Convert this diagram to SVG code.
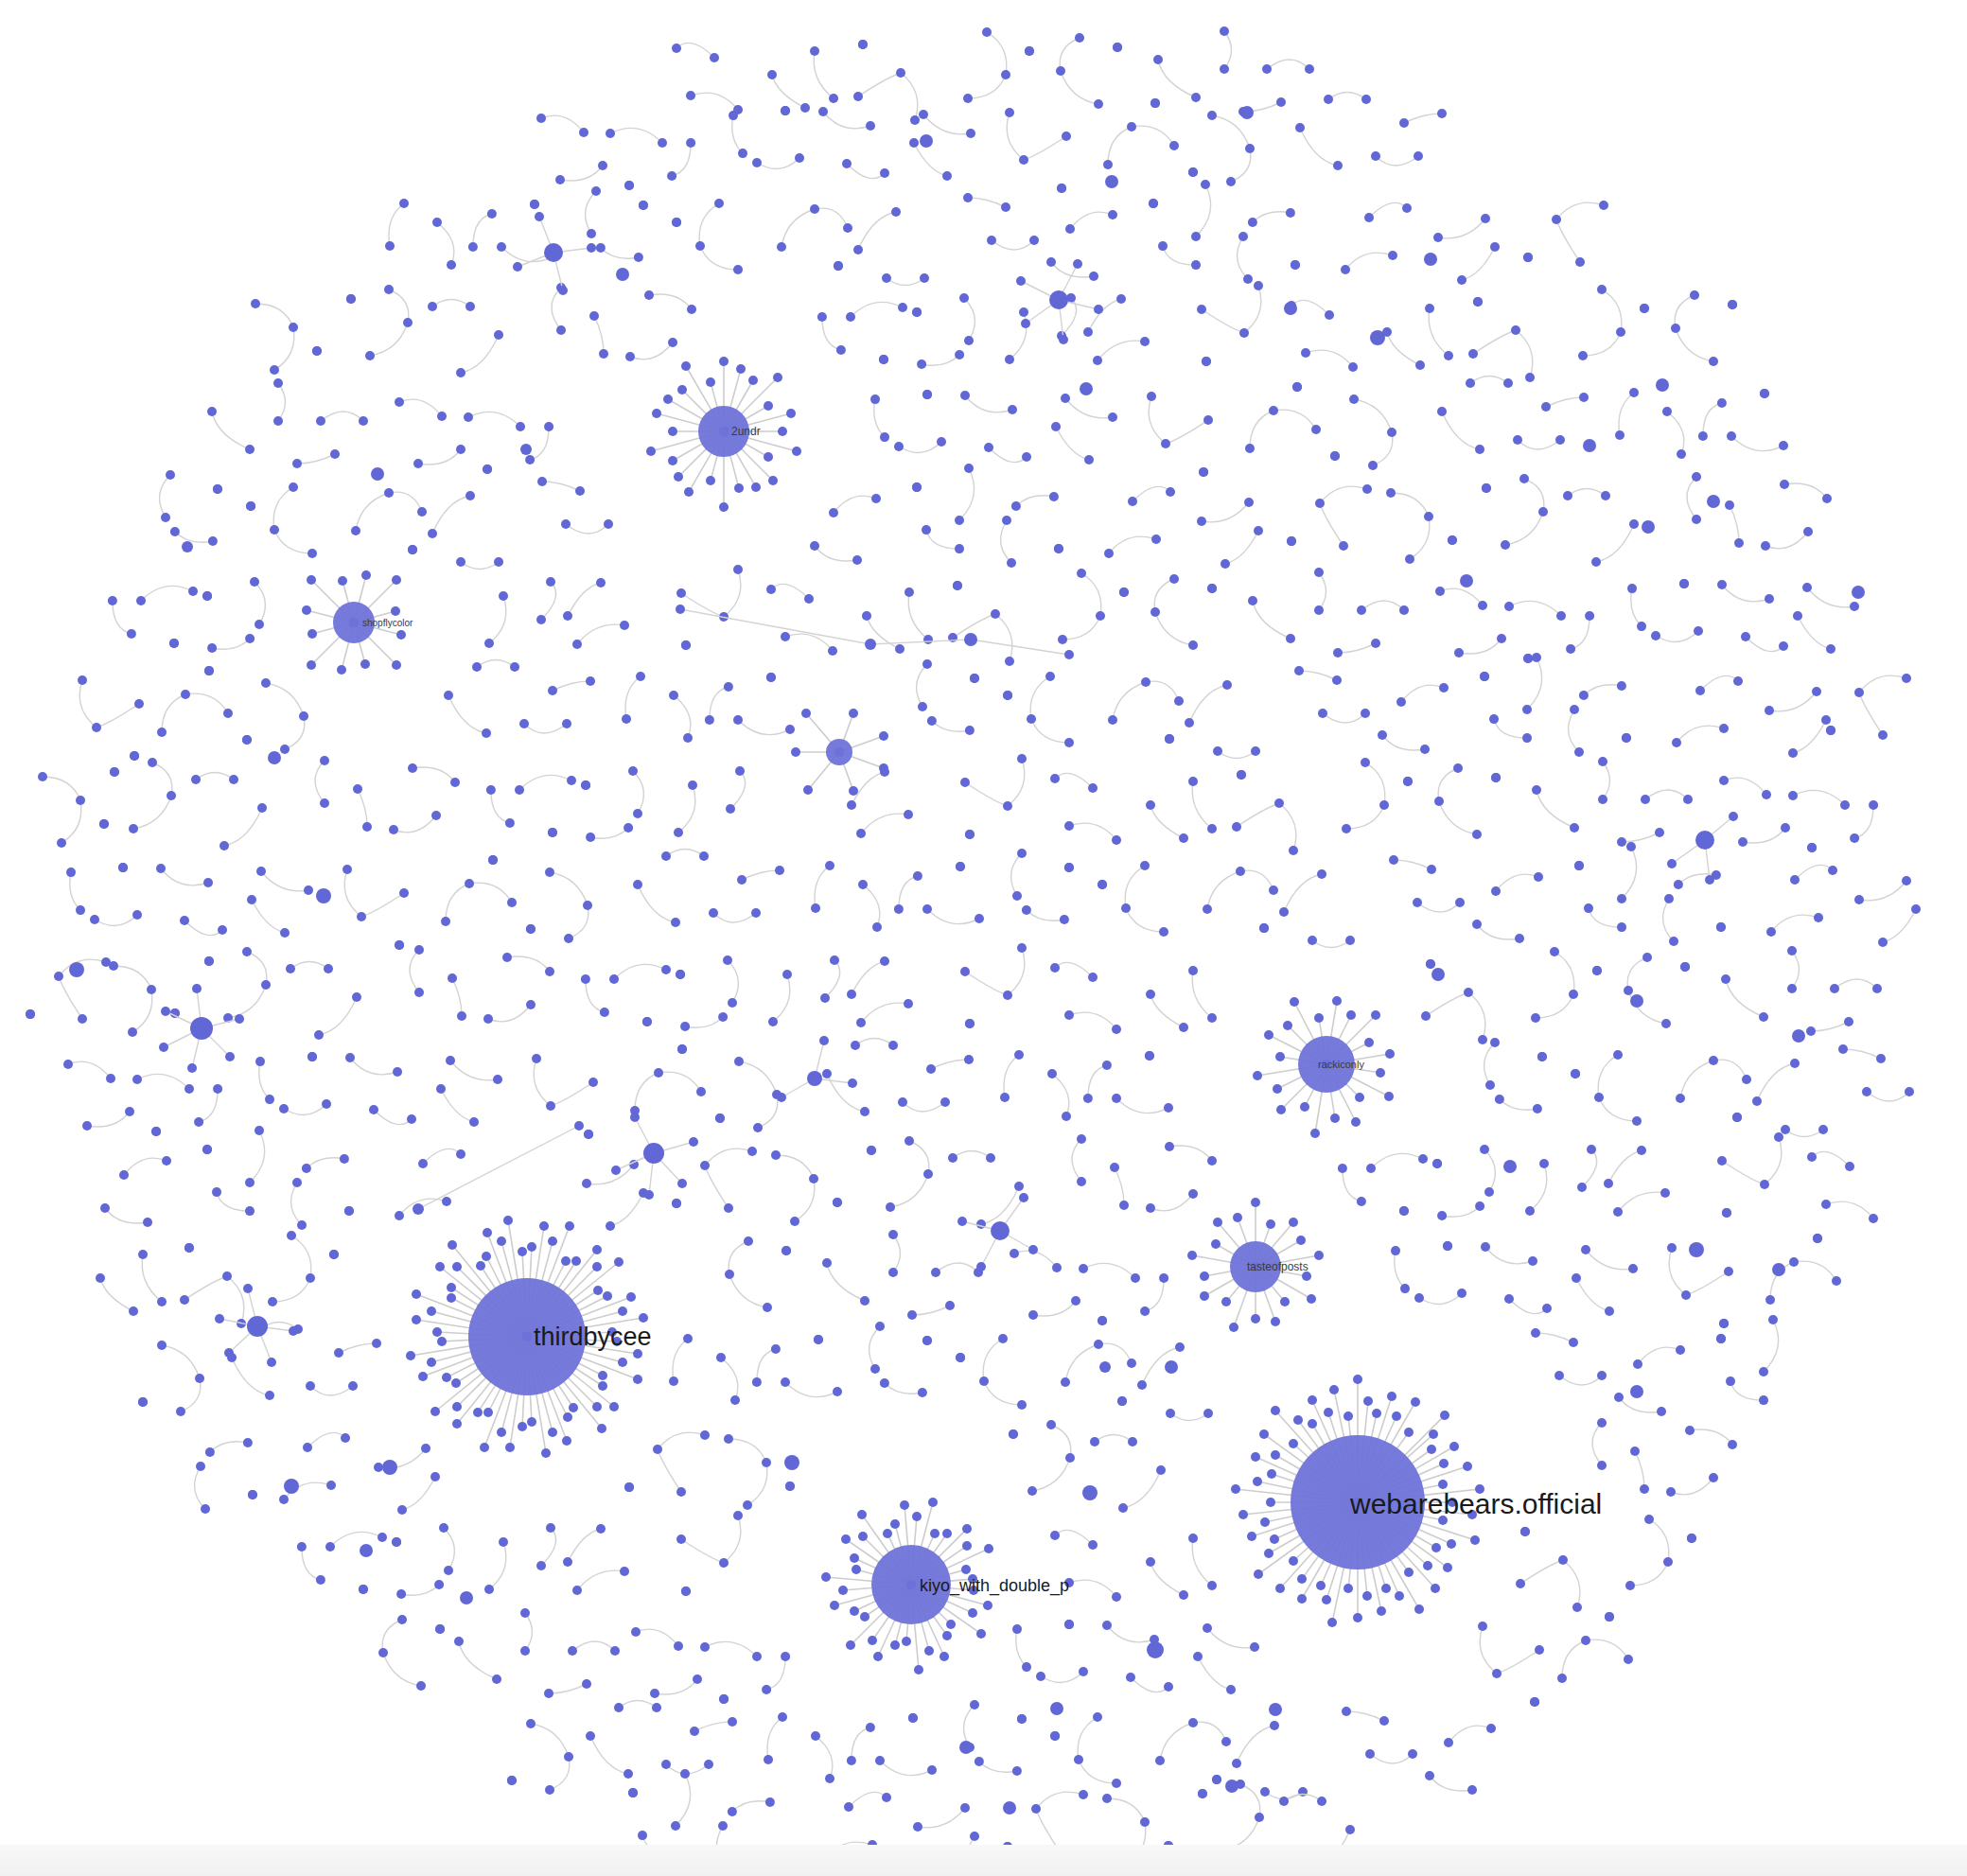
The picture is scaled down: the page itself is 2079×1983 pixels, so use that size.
<svg xmlns="http://www.w3.org/2000/svg" xmlns:xlink="http://www.w3.org/1999/xlink" width="2079" height="1983" viewBox="0 0 2079 1983">
<style>
.cn{fill:none;stroke:#d3d3d3;stroke-width:1.4;marker-start:url(#d);marker-mid:url(#d);marker-end:url(#d)}
.sp{stroke:#cdcdcd;stroke-width:1.6}
.hub{fill:#6e73d9;fill-opacity:.95}
.mid{fill:#6267d6}
.lbl{font-family:"Liberation Sans",Arial,sans-serif;fill:#1a1a1a}
.sm{fill:#3a3a3a}
</style>
<defs>
<marker id="d" markerUnits="userSpaceOnUse" markerWidth="14" markerHeight="14" viewBox="-7 -7 14 14" refX="0" refY="0" overflow="visible"><circle r="5" fill="#6267d6"/></marker>
<linearGradient id="bg" x1="0" y1="0" x2="0" y2="1"><stop offset="0" stop-color="#f8f8f8"/><stop offset="1" stop-color="#f1f1f1"/></linearGradient>
<path id="t0" d="M15 20q15 -15 40 10m-25 40q30 -10 50 15"/>
<path id="t1" d="M60 12q-25 15 -20 45q10 25 40 25m-65 -50h.1"/>
<path id="t2" d="M10 60q20 20 45 0m25 -45q-20 0 -40 10"/>
<path id="t3" d="M80 55q15 -25 -5 -45m-50 15h.1m5 55q25 5 40 -10"/>
<path id="t4" d="M25 10q-10 30 15 50q15 -5 45 -25m-5 55h.1"/>
<path id="t5" d="M45 85q25 -5 40 -40m-70 -30q20 -15 40 0"/>
<path id="t6" d="M5 35q30 -15 55 10m-35 45h.1m45 -10q20 -5 20 -35"/>
<path id="t7" d="M80 25q-20 25 -50 20m25 45q20 -5 35 -35"/>
<path id="t8" d="M65 80q-30 -5 -40 -35q-5 -25 20 -35m40 10h.1"/>
<path id="t9" d="M35 40q20 -25 45 -15m-65 50q15 20 45 15"/>
<use id="r0" href="#t0" transform="rotate(90 50 50)"/><use id="r1" href="#t1" transform="rotate(90 50 50)"/><use id="r2" href="#t2" transform="rotate(90 50 50)"/><use id="r3" href="#t3" transform="rotate(90 50 50)"/><use id="r4" href="#t4" transform="rotate(90 50 50)"/><use id="r5" href="#t5" transform="rotate(90 50 50)"/><use id="r6" href="#t6" transform="rotate(90 50 50)"/><use id="r7" href="#t7" transform="rotate(90 50 50)"/><use id="r8" href="#t8" transform="rotate(90 50 50)"/><use id="r9" href="#t9" transform="rotate(90 50 50)"/>
<use id="h0" href="#t0" transform="rotate(180 50 50)"/><use id="h1" href="#t1" transform="rotate(180 50 50)"/><use id="h2" href="#t2" transform="rotate(180 50 50)"/><use id="h3" href="#t3" transform="rotate(180 50 50)"/><use id="h4" href="#t4" transform="rotate(180 50 50)"/><use id="h5" href="#t5" transform="rotate(180 50 50)"/><use id="h6" href="#t6" transform="rotate(180 50 50)"/><use id="h7" href="#t7" transform="rotate(180 50 50)"/><use id="h8" href="#t8" transform="rotate(180 50 50)"/><use id="h9" href="#t9" transform="rotate(180 50 50)"/>
<use id="f0" href="#t0" transform="matrix(-1 0 0 1 100 0)"/><use id="f1" href="#t1" transform="matrix(-1 0 0 1 100 0)"/><use id="f2" href="#t2" transform="matrix(-1 0 0 1 100 0)"/><use id="f3" href="#t3" transform="matrix(-1 0 0 1 100 0)"/><use id="f4" href="#t4" transform="matrix(-1 0 0 1 100 0)"/><use id="f5" href="#t5" transform="matrix(-1 0 0 1 100 0)"/><use id="f6" href="#t6" transform="matrix(-1 0 0 1 100 0)"/><use id="f7" href="#t7" transform="matrix(-1 0 0 1 100 0)"/><use id="f8" href="#t8" transform="matrix(-1 0 0 1 100 0)"/><use id="f9" href="#t9" transform="matrix(-1 0 0 1 100 0)"/>
</defs>
<rect width="2079" height="1983" fill="#ffffff"/>
<g id="connectors" class="cn">
<g id="minor-pairs">
<use href="#t0" x="700" y="31"/><use href="#r7" x="806" y="24"/><use href="#h4" x="892" y="37"/><use href="#f1" x="1003" y="22"/><use href="#t8" x="1096" y="30"/><use href="#r5" x="1209" y="18"/><use href="#h2" x="1294" y="33"/>
<use href="#f9" x="552" y="100"/><use href="#t6" x="640" y="106"/><use href="#r3" x="755" y="92"/><use href="#h0" x="850" y="103"/><use href="#f7" x="956" y="96"/><use href="#t4" x="1042" y="109"/><use href="#r1" x="1153" y="94"/><use href="#h8" x="1246" y="102"/><use href="#f5" x="1359" y="90"/><use href="#t2" x="1444" y="105"/>
<use href="#r9" x="402" y="200"/><use href="#h6" x="490" y="206"/><use href="#f3" x="605" y="192"/><use href="#t1" x="700" y="203"/><use href="#r8" x="806" y="196"/><use href="#h5" x="892" y="209"/><use href="#f2" x="1003" y="194"/><use href="#t9" x="1096" y="202"/><use href="#r6" x="1209" y="190"/><use href="#h3" x="1294" y="205"/><use href="#f0" x="1402" y="200"/><use href="#t7" x="1490" y="206"/><use href="#r4" x="1605" y="192"/>
<use href="#h1" x="250" y="303"/><use href="#f8" x="356" y="296"/><use href="#t5" x="442" y="309"/><use href="#r2" x="553" y="294"/><use href="#h9" x="646" y="302"/><use href="#f6" x="859" y="290"/><use href="#t3" x="944" y="305"/><use href="#r0" x="1052" y="300"/><use href="#h7" x="1140" y="306"/><use href="#f4" x="1255" y="292"/><use href="#t0" x="1350" y="303"/><use href="#r7" x="1456" y="296"/><use href="#h4" x="1542" y="309"/><use href="#f1" x="1653" y="294"/><use href="#t8" x="1746" y="302"/>
<use href="#r5" x="209" y="390"/><use href="#h2" x="294" y="405"/><use href="#f9" x="402" y="400"/><use href="#t6" x="490" y="406"/><use href="#r3" x="905" y="392"/><use href="#h0" x="1000" y="403"/><use href="#f7" x="1106" y="396"/><use href="#t4" x="1192" y="409"/><use href="#r1" x="1303" y="394"/><use href="#h8" x="1396" y="402"/><use href="#f5" x="1509" y="390"/><use href="#t2" x="1594" y="405"/><use href="#r9" x="1702" y="400"/><use href="#h6" x="1790" y="406"/>
<use href="#f3" x="155" y="492"/><use href="#t1" x="250" y="503"/><use href="#r8" x="356" y="496"/><use href="#h5" x="442" y="509"/><use href="#f2" x="553" y="494"/><use href="#t9" x="846" y="502"/><use href="#r6" x="959" y="490"/><use href="#h3" x="1044" y="505"/><use href="#f0" x="1152" y="500"/><use href="#t7" x="1240" y="506"/><use href="#r4" x="1355" y="492"/><use href="#h1" x="1450" y="503"/><use href="#f8" x="1556" y="496"/><use href="#t5" x="1642" y="509"/><use href="#r2" x="1753" y="494"/><use href="#h9" x="1846" y="502"/>
<use href="#f6" x="109" y="590"/><use href="#t3" x="194" y="605"/><use href="#r0" x="502" y="600"/><use href="#h7" x="590" y="606"/><use href="#f4" x="705" y="592"/><use href="#t0" x="800" y="603"/><use href="#r7" x="906" y="596"/><use href="#h4" x="992" y="609"/><use href="#f1" x="1103" y="594"/><use href="#t8" x="1196" y="602"/><use href="#r5" x="1309" y="590"/><use href="#h2" x="1394" y="605"/><use href="#f9" x="1502" y="600"/><use href="#t6" x="1590" y="606"/><use href="#r3" x="1705" y="592"/><use href="#h0" x="1800" y="603"/><use href="#f7" x="1890" y="596"/>
<use href="#t4" x="62" y="709"/><use href="#r1" x="153" y="694"/><use href="#h8" x="246" y="702"/><use href="#f5" x="459" y="690"/><use href="#t2" x="544" y="705"/><use href="#r9" x="652" y="700"/><use href="#h6" x="740" y="706"/><use href="#f3" x="955" y="692"/><use href="#t1" x="1050" y="703"/><use href="#r8" x="1156" y="696"/><use href="#h5" x="1242" y="709"/><use href="#f2" x="1353" y="694"/><use href="#t9" x="1446" y="702"/><use href="#r6" x="1559" y="690"/><use href="#h3" x="1644" y="705"/><use href="#f0" x="1752" y="700"/><use href="#t7" x="1840" y="706"/><use href="#r4" x="1925" y="692"/>
<use href="#h1" x="25" y="803"/><use href="#f8" x="106" y="796"/><use href="#t5" x="192" y="809"/><use href="#r2" x="303" y="794"/><use href="#h9" x="396" y="802"/><use href="#f6" x="509" y="790"/><use href="#t3" x="594" y="805"/><use href="#r0" x="702" y="800"/><use href="#h7" x="890" y="806"/><use href="#f4" x="1005" y="792"/><use href="#t0" x="1100" y="803"/><use href="#r7" x="1206" y="796"/><use href="#h4" x="1292" y="809"/><use href="#f1" x="1403" y="794"/><use href="#t8" x="1496" y="802"/><use href="#r5" x="1609" y="790"/><use href="#h2" x="1694" y="805"/><use href="#f9" x="1802" y="800"/><use href="#t6" x="1890" y="806"/>
<use href="#r3" x="55" y="892"/><use href="#h0" x="150" y="903"/><use href="#f7" x="256" y="896"/><use href="#t4" x="342" y="909"/><use href="#r1" x="453" y="894"/><use href="#h8" x="546" y="902"/><use href="#f5" x="659" y="890"/><use href="#t2" x="744" y="905"/><use href="#r9" x="852" y="900"/><use href="#h6" x="940" y="906"/><use href="#f3" x="1055" y="892"/><use href="#t1" x="1150" y="903"/><use href="#r8" x="1256" y="896"/><use href="#h5" x="1342" y="909"/><use href="#f2" x="1453" y="894"/><use href="#t9" x="1546" y="902"/><use href="#r6" x="1659" y="890"/><use href="#h3" x="1744" y="905"/><use href="#f0" x="1852" y="900"/><use href="#t7" x="1935" y="906"/>
<use href="#r4" x="22" y="992"/><use href="#h1" x="100" y="1003"/><use href="#f8" x="206" y="996"/><use href="#t5" x="292" y="1009"/><use href="#r2" x="403" y="994"/><use href="#h9" x="496" y="1002"/><use href="#f6" x="609" y="990"/><use href="#t3" x="694" y="1005"/><use href="#r0" x="802" y="1000"/><use href="#h7" x="890" y="1006"/><use href="#f4" x="1005" y="992"/><use href="#t0" x="1100" y="1003"/><use href="#r7" x="1206" y="996"/><use href="#h4" x="1492" y="1009"/><use href="#f1" x="1603" y="994"/><use href="#t8" x="1696" y="1002"/><use href="#r5" x="1809" y="990"/><use href="#h2" x="1894" y="1005"/>
<use href="#f9" x="52" y="1100"/><use href="#t6" x="140" y="1106"/><use href="#r3" x="255" y="1092"/><use href="#h0" x="350" y="1103"/><use href="#f7" x="456" y="1096"/><use href="#t4" x="542" y="1109"/><use href="#r1" x="653" y="1094"/><use href="#h8" x="746" y="1102"/><use href="#f5" x="859" y="1090"/><use href="#t2" x="944" y="1105"/><use href="#r9" x="1052" y="1100"/><use href="#h6" x="1140" y="1106"/><use href="#f3" x="1555" y="1092"/><use href="#t1" x="1650" y="1103"/><use href="#r8" x="1756" y="1096"/><use href="#h5" x="1842" y="1109"/><use href="#f2" x="1928" y="1094"/>
<use href="#t9" x="96" y="1202"/><use href="#r6" x="209" y="1190"/><use href="#h3" x="294" y="1205"/><use href="#f0" x="402" y="1200"/><use href="#t7" x="590" y="1206"/><use href="#r4" x="705" y="1192"/><use href="#h1" x="800" y="1203"/><use href="#f8" x="906" y="1196"/><use href="#t5" x="992" y="1209"/><use href="#r2" x="1103" y="1194"/><use href="#h9" x="1196" y="1202"/><use href="#f6" x="1409" y="1190"/><use href="#t3" x="1494" y="1205"/><use href="#r0" x="1602" y="1200"/><use href="#h7" x="1690" y="1206"/><use href="#f4" x="1805" y="1192"/><use href="#t0" x="1900" y="1203"/>
<use href="#r7" x="96" y="1296"/><use href="#h4" x="180" y="1309"/><use href="#f1" x="268" y="1294"/><use href="#t8" x="746" y="1302"/><use href="#r5" x="859" y="1290"/><use href="#h2" x="944" y="1305"/><use href="#f9" x="1052" y="1300"/><use href="#t6" x="1140" y="1306"/><use href="#r3" x="1455" y="1292"/><use href="#h0" x="1550" y="1303"/><use href="#f7" x="1656" y="1296"/><use href="#t4" x="1742" y="1309"/><use href="#r1" x="1853" y="1294"/>
<use href="#h8" x="136" y="1402"/><use href="#f5" x="230" y="1390"/><use href="#t2" x="318" y="1405"/><use href="#r9" x="702" y="1400"/><use href="#h6" x="790" y="1406"/><use href="#f3" x="905" y="1392"/><use href="#t1" x="1000" y="1403"/><use href="#r8" x="1106" y="1396"/><use href="#h5" x="1192" y="1409"/><use href="#f2" x="1603" y="1394"/><use href="#t9" x="1696" y="1402"/><use href="#r6" x="1809" y="1390"/>
<use href="#h3" x="192" y="1505"/><use href="#f0" x="280" y="1500"/><use href="#t7" x="370" y="1506"/><use href="#r4" x="655" y="1492"/><use href="#h1" x="750" y="1503"/><use href="#f8" x="1056" y="1496"/><use href="#t5" x="1142" y="1509"/><use href="#r2" x="1653" y="1494"/><use href="#h9" x="1746" y="1502"/>
<use href="#f6" x="309" y="1590"/><use href="#t3" x="394" y="1605"/><use href="#r0" x="502" y="1600"/><use href="#h7" x="590" y="1606"/><use href="#f4" x="705" y="1592"/><use href="#t0" x="1100" y="1603"/><use href="#r7" x="1206" y="1596"/><use href="#h4" x="1592" y="1609"/><use href="#f1" x="1703" y="1594"/>
<use href="#t8" x="380" y="1702"/><use href="#r5" x="470" y="1690"/><use href="#h2" x="560" y="1705"/><use href="#f9" x="652" y="1700"/><use href="#t6" x="740" y="1706"/><use href="#r3" x="1055" y="1692"/><use href="#h0" x="1150" y="1703"/><use href="#f7" x="1256" y="1696"/><use href="#t4" x="1542" y="1709"/><use href="#r1" x="1633" y="1694"/>
<use href="#h8" x="526" y="1802"/><use href="#f5" x="609" y="1790"/><use href="#t2" x="694" y="1805"/><use href="#r9" x="802" y="1800"/><use href="#h6" x="890" y="1806"/><use href="#f3" x="1005" y="1792"/><use href="#t1" x="1100" y="1803"/><use href="#r8" x="1206" y="1796"/><use href="#h5" x="1292" y="1809"/><use href="#f2" x="1403" y="1794"/><use href="#t9" x="1496" y="1802"/>
<use href="#r6" x="659" y="1870"/><use href="#h3" x="744" y="1885"/><use href="#f0" x="852" y="1880"/><use href="#t7" x="940" y="1886"/><use href="#r4" x="1055" y="1872"/><use href="#h1" x="1150" y="1883"/><use href="#f8" x="1256" y="1876"/><use href="#t5" x="1342" y="1889"/>
</g>
<g id="minor-stars">
<path d="M213 1087l40 -10m-40 10l30 30m-30 -30l-10 42m10 -42l-40 20m40 -20l-38 -18m38 18l-5 -42"/>
<path d="M272 1402l38 5m-38 -5l15 38m-15 -38l-30 28m30 -28l-40 -8m40 8l-10 -40"/>
<path d="M691 1219l42 -12m-42 12l30 32m-30 -32l-5 44m5 -44l-40 18m40 -18l-20 -38"/>
<path d="M585 267l40 -5m-40 5l10 40m-10 -40l-38 15m38 -15l-15 -38"/>
<path d="M1119 317l-40 -20m40 20l-35 25m35 -25l5 42m-5 -42l42 10m-42 -10l20 -38"/>
<path d="M1057 1301l35 20m-35 -20l-20 38m20 -38l-40 -10m40 10l25 -35"/>
<path d="M1802 888l-35 25m35 -25l30 -25m-30 25l5 42"/>
<path d="M861 1140l40 5m-40 -5l-35 20m35 -20l10 -40"/>
<path d="M719 644L920 681L1026 676L1130 692"/>
<path d="M442 1278L612 1190"/>
</g>
<g id="hub-spokes" class="sp">
<path d="M557 1413l95 5m-95 -5l117 18m-117 -18l101 27m-101 -27l117 45m-117 -45l80 41m-80 -41l80 52m-80 -52l92 74m-92 -74l74 74m-74 -74l79 97m-79 -97l49 75m-49 -75l43 85m-43 -85l42 110m-42 -110l27 101m-27 -101l20 123m-20 -123l5 90m-5 -90l-5 95m5 -95l-18 117m18 -117l-27 101m27 -101l-45 117m45 -117l-41 80m41 -80l-52 80m52 -80l-74 92m74 -92l-74 74m74 -74l-97 79m97 -79l-75 49m75 -49l-85 43m85 -43l-110 42m110 -42l-101 27m101 -27l-123 20m123 -20l-90 5m90 -5l-95 -5m95 5l-117 -18m117 18l-101 -27m101 27l-117 -45m117 45l-80 -41m80 41l-80 -52m80 52l-92 -74m92 74l-74 -74m74 74l-79 -97m79 97l-49 -75m49 75l-43 -85m43 85l-42 -110m42 110l-27 -101m27 101l-20 -123m20 123l-5 -90m5 90l5 -95m-5 95l18 -117m-18 117l27 -101m-27 101l45 -117m-45 117l41 -80m-41 80l52 -80m-52 80l74 -92m-74 92l74 -74m-74 74l97 -79m-97 79l75 -49m-75 49l85 -43m-85 43l110 -42m-110 42l101 -27m-101 27l123 -20m-123 20l90 -5"/>
<path d="M1435 1588l100 0m-100 0l121 13m-121 -13l90 19m-90 -19l124 40m-124 -40l99 44m-99 -44l83 48m-83 -48l95 69m-95 -69l74 67m-74 -67l82 91m-82 -91l54 74m-54 -74l65 113m-65 -113l44 99m-44 -99l30 91m-30 -91l25 115m-25 -115l10 99m-10 -99l0 122m0 -122l-10 91m10 -91l-27 127m27 -127l-33 103m33 -103l-39 88m39 -88l-59 102m59 -102l-59 81m59 -81l-82 91m82 -91l-68 62m68 -62l-105 76m105 -76l-94 54m94 -54l-88 39m88 -39l-112 36m112 -36l-98 21m98 -21l-121 13m121 -13l-92 0m92 0l-129 -14m129 14l-106 -22m106 22l-91 -30m91 30l-108 -48m108 48l-87 -50m87 50l-99 -72m99 72l-68 -62m68 62l-87 -97m87 97l-63 -87m63 87l-48 -83m48 83l-48 -108m48 108l-31 -95m31 95l-25 -119m25 119l-10 -91m10 91l0 -130m0 130l11 -107m-11 107l20 -94m-20 94l36 -112m-36 112l41 -91m-41 91l61 -106m-61 106l54 -74m-54 74l92 -92m-92 92l80 -72m-80 72l78 -56m-78 56l102 -59m-102 59l91 -41m-91 41l116 -38m-116 38l90 -19m-90 19l129 -14"/>
<path d="M963 1675l66 6m-66 -6l81 22m-81 -22l65 30m-65 -30l74 52m-74 -52l42 42m-42 -42l38 54m-38 -54l35 76m-35 -76l19 70m-19 -70l8 90m-8 -90l-5 60m5 -60l-17 64m17 -64l-35 76m35 -76l-41 59m41 -59l-64 64m64 -64l-49 34m49 -34l-60 28m60 -28l-81 22m81 -22l-72 6m72 -6l-90 -8m90 8l-58 -16m58 16l-60 -28m60 28l-69 -48m69 48l-51 -51m51 51l-52 -74m52 74l-25 -54m25 54l-17 -64m17 64l-7 -84m7 84l6 -72m-6 72l23 -87m-23 87l25 -54m-25 54l38 -54m-38 54l59 -59m-59 59l59 -41m-59 41l82 -38m-82 38l58 -16m-58 16l65 -6"/>
<path d="M1402 1125l57 9m-57 -9l66 34m-66 -34l35 35m-35 -35l31 61m-31 -61l9 57m-9 -57l-12 73m12 -73l-23 45m23 -45l-48 48m48 -48l-52 26m52 -26l-73 12m73 -12l-49 -8m49 8l-61 -31m61 31l-41 -41m41 41l-34 -66m34 66l-8 -49m8 49l11 -67m-11 67l26 -52m-26 52l52 -52m-52 52l45 -23m-45 23l67 -11"/>
<path d="M1327 1339l54 10m-54 -10l59 34m-59 -34l31 37m-31 -37l21 58m-21 -58l0 55m0 -55l-23 64m23 -64l-31 37m31 -37l-54 31m54 -31l-54 10m54 -10l-67 -12m67 12l-42 -24m42 24l-40 -47m40 47l-19 -52m19 52l0 -68m0 68l16 -45m-16 45l40 -47m-40 47l48 -28m-48 28l67 -12"/>
<path d="M765 456l62 0m-62 0l77 21m-77 -21l47 27m-47 -27l52 52m-52 -52l34 59m-34 -59l16 60m-16 -60l0 80m0 -80l-14 52m14 -52l-37 64m37 -64l-48 48m48 -48l-54 31m54 -31l-77 21m77 -21l-54 0m54 0l-71 -19m71 19l-59 -34m59 34l-44 -44m44 44l-40 -69m40 69l-14 -52m14 52l0 -74m0 74l18 -66m-18 66l31 -54m-31 54l57 -57m-57 57l47 -27m-47 27l71 -19"/>
<path d="M374 658l50 13m-50 -13l45 45m-45 -45l12 44m-12 -44l-13 50m13 -50l-45 45m45 -45l-44 12m44 -12l-50 -13m50 13l-45 -45m45 45l-12 -44m12 44l13 -50m-13 50l45 -45m-45 45l44 -12"/>
<path d="M887 795l47 17m-47 -17l15 41m-15 -41l-33 40m33 -40l-46 0m46 0l-35 -41m35 41l15 -41m-15 41l47 -17"/>
</g>
</g>
<g id="minor-nodes" class="mid">
<circle cx="585" cy="267" r="10"/><circle cx="1119" cy="317" r="10"/><circle cx="658" cy="290" r="7"/><circle cx="979" cy="149" r="7"/><circle cx="1318" cy="119" r="7"/><circle cx="1456" cy="357" r="8"/><circle cx="1364" cy="326" r="7"/><circle cx="1175" cy="192" r="7"/><circle cx="1148" cy="411" r="7"/><circle cx="1512" cy="274" r="7"/><circle cx="1550" cy="614" r="7"/><circle cx="1802" cy="888" r="10"/><circle cx="1520" cy="1030" r="7"/><circle cx="1730" cy="1058" r="7"/><circle cx="1901" cy="1095" r="7"/><circle cx="1596" cy="1233" r="7"/><circle cx="1793" cy="1321" r="8"/><circle cx="1880" cy="1342" r="7"/><circle cx="1730" cy="1471" r="7"/><circle cx="1964" cy="626" r="7"/><circle cx="1811" cy="530" r="7"/><circle cx="1742" cy="557" r="7"/><circle cx="1757" cy="407" r="7"/><circle cx="1680" cy="471" r="7"/>
<circle cx="213" cy="1087" r="12"/><circle cx="81" cy="1025" r="8"/><circle cx="272" cy="1402" r="11"/><circle cx="308" cy="1571" r="8"/><circle cx="412" cy="1551" r="8"/><circle cx="387" cy="1639" r="7"/><circle cx="493" cy="1689" r="7"/><circle cx="442" cy="1278" r="6"/><circle cx="691" cy="1219" r="11"/><circle cx="1057" cy="1301" r="10"/><circle cx="861" cy="1140" r="8"/><circle cx="342" cy="947" r="8"/><circle cx="290" cy="801" r="7"/><circle cx="198" cy="578" r="6"/><circle cx="399" cy="501" r="7"/><circle cx="556" cy="475" r="6"/><circle cx="920" cy="681" r="6"/><circle cx="1026" cy="676" r="7"/><circle cx="837" cy="1546" r="8"/><circle cx="1152" cy="1578" r="8"/><circle cx="1221" cy="1744" r="9"/><circle cx="1117" cy="1806" r="7"/><circle cx="1021" cy="1847" r="7"/><circle cx="1067" cy="1911" r="7"/><circle cx="1302" cy="1888" r="7"/><circle cx="1348" cy="1807" r="7"/><circle cx="1238" cy="1445" r="7"/><circle cx="1168" cy="1445" r="6"/>
</g>
<g id="node-887-795"><circle class="hub" cx="887" cy="795" r="14"/></g>
<g id="shopflycolor"><circle class="hub" cx="374" cy="658" r="22"/><text class="lbl sm" x="383" y="662" font-size="10">shopflycolor</text></g>
<g id="2undr"><circle class="hub" cx="765" cy="456" r="27"/><text class="lbl sm" x="773" y="460" font-size="12">2undr</text></g>
<g id="tasteofposts"><circle class="hub" cx="1327" cy="1339" r="27"/><text class="lbl sm" x="1318" y="1343" font-size="12">tasteofposts</text></g>
<g id="rackiconly"><circle class="hub" cx="1402" cy="1125" r="30"/><text class="lbl sm" x="1393" y="1129" font-size="11">rackiconly</text></g>
<g id="kiyo_with_double_p"><circle class="hub" cx="963" cy="1675" r="42"/><text class="lbl" x="972" y="1682" font-size="18">kiyo_with_double_p</text></g>
<g id="thirdbycee"><circle class="hub" cx="557" cy="1413" r="62"/><text class="lbl" x="564" y="1422" font-size="27">thirdbycee</text></g>
<g id="webarebears.official"><circle class="hub" cx="1435" cy="1588" r="71"/><text class="lbl" x="1427" y="1600" font-size="30">webarebears.official</text></g>
<rect x="0" y="1950" width="2079" height="33" fill="url(#bg)"/>
</svg>
